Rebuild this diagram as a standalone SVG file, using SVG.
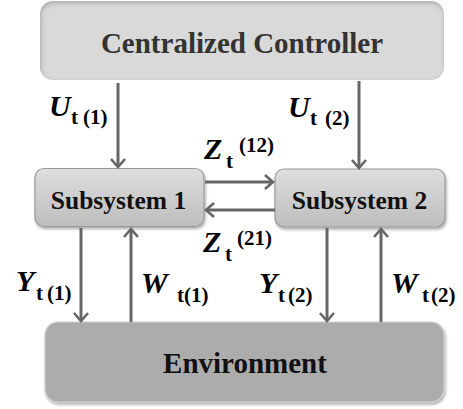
<svg xmlns="http://www.w3.org/2000/svg" width="463" height="409" viewBox="0 0 463 409">
<defs>
<marker id="ah" viewBox="-10 -9 12 18" refX="0" refY="0" markerWidth="12" markerHeight="18" markerUnits="userSpaceOnUse" orient="auto">
<path d="M-8,-7 L0,0 L-8,7" fill="none" stroke="#666" stroke-width="2.6" stroke-linejoin="miter"/>
</marker>
<linearGradient id="gsub" x1="0" y1="0" x2="0" y2="1">
<stop offset="0" stop-color="#dedede"/>
<stop offset="1" stop-color="#bdbdbd"/>
</linearGradient>
<filter id="inset" x="-5%" y="-10%" width="110%" height="120%">
<feFlood flood-color="#000" flood-opacity="0.45"/>
<feComposite in2="SourceAlpha" operator="out"/>
<feGaussianBlur stdDeviation="2.5"/>
<feOffset dx="1" dy="2" result="sh"/>
<feComposite in="sh" in2="SourceAlpha" operator="in" result="inner"/>
<feMerge><feMergeNode in="SourceGraphic"/><feMergeNode in="inner"/></feMerge>
</filter>
<filter id="drop" x="-10%" y="-20%" width="120%" height="140%">
<feGaussianBlur in="SourceAlpha" stdDeviation="1.5"/>
<feOffset dx="1" dy="2" result="o"/>
<feComponentTransfer><feFuncA type="linear" slope="0.35"/></feComponentTransfer>
<feMerge><feMergeNode/><feMergeNode in="SourceGraphic"/></feMerge>
</filter>
</defs>

<g id="controller">
<rect x="40" y="1" width="404" height="79" rx="13" fill="#d9d9d9" filter="url(#inset)"/>
<text x="242" y="53" text-anchor="middle" font-size="29" fill="#333" font-family="Liberation Serif" font-weight="bold">Centralized Controller</text>
</g>

<g id="subsystem1">
<rect x="35" y="168.5" width="169" height="58" rx="9" fill="url(#gsub)" stroke="#999" stroke-width="1.2" filter="url(#drop)"/>
<text x="118.5" y="209" text-anchor="middle" font-size="25.5" fill="#111" font-family="Liberation Serif" font-weight="bold">Subsystem 1</text>
</g>

<g id="subsystem2">
<rect x="275" y="169" width="170" height="58" rx="9" fill="url(#gsub)" stroke="#999" stroke-width="1.2" filter="url(#drop)"/>
<text x="359.5" y="209" text-anchor="middle" font-size="25.5" fill="#111" font-family="Liberation Serif" font-weight="bold">Subsystem 2</text>
</g>

<g id="environment">
<rect x="45" y="322" width="399" height="80" rx="13" fill="#acacac" stroke="#cfcfcf" stroke-width="1.2" filter="url(#drop)"/>
<text x="245" y="373" text-anchor="middle" font-size="29" fill="#111" font-family="Liberation Serif" font-weight="bold">Environment</text>
</g>

<g id="connectors" stroke="#666" stroke-width="3" fill="none">
<line x1="118" y1="83" x2="118" y2="167" marker-end="url(#ah)"/>
<line x1="359" y1="81" x2="359" y2="168" marker-end="url(#ah)"/>
<line x1="205" y1="182" x2="273" y2="182" marker-end="url(#ah)"/>
<line x1="275" y1="210" x2="206" y2="210" marker-end="url(#ah)"/>
<line x1="81" y1="228" x2="81" y2="321" marker-end="url(#ah)"/>
<line x1="131" y1="322" x2="131" y2="229" marker-end="url(#ah)"/>
<line x1="327" y1="228" x2="327" y2="321" marker-end="url(#ah)"/>
<line x1="381" y1="322" x2="381" y2="229" marker-end="url(#ah)"/>
</g>

<g id="labels" fill="#000">
<text x="49" y="116" font-size="30" font-style="italic" font-weight="bold" font-family="Liberation Serif">U</text><text x="71" y="124" font-size="21" font-weight="bold" font-family="Liberation Serif">t</text><text x="83" y="124" font-size="21" font-weight="bold" font-family="Liberation Serif">(1)</text>
<text x="288" y="117" font-size="30" font-style="italic" font-weight="bold" font-family="Liberation Serif">U</text><text x="310" y="125" font-size="21" font-weight="bold" font-family="Liberation Serif">t</text><text x="325" y="125" font-size="21" font-weight="bold" font-family="Liberation Serif">(2)</text>
<text x="204" y="159" font-size="30" font-style="italic" font-weight="bold" font-family="Liberation Serif">Z</text><text x="226" y="168" font-size="21" font-weight="bold" font-family="Liberation Serif">t</text><text x="239" y="152" font-size="21" font-weight="bold" font-family="Liberation Serif">(12)</text>
<text x="203" y="252" font-size="30" font-style="italic" font-weight="bold" font-family="Liberation Serif">Z</text><text x="225" y="261" font-size="21" font-weight="bold" font-family="Liberation Serif">t</text><text x="237" y="245" font-size="21" font-weight="bold" font-family="Liberation Serif">(21)</text>
<text x="16" y="291" font-size="30" font-style="italic" font-weight="bold" font-family="Liberation Serif">Y</text><text x="36" y="300" font-size="21" font-weight="bold" font-family="Liberation Serif">t</text><text x="47" y="300" font-size="21" font-weight="bold" font-family="Liberation Serif">(1)</text>
<text x="141" y="293" font-size="30" font-style="italic" font-weight="bold" font-family="Liberation Serif">W</text><text x="177" y="302" font-size="21" font-weight="bold" font-family="Liberation Serif">t</text><text x="184" y="302" font-size="21" font-weight="bold" font-family="Liberation Serif">(1)</text>
<text x="259" y="293" font-size="30" font-style="italic" font-weight="bold" font-family="Liberation Serif">Y</text><text x="278" y="302" font-size="21" font-weight="bold" font-family="Liberation Serif">t</text><text x="288" y="302" font-size="21" font-weight="bold" font-family="Liberation Serif">(2)</text>
<text x="391" y="293" font-size="30" font-style="italic" font-weight="bold" font-family="Liberation Serif">W</text><text x="422" y="302" font-size="21" font-weight="bold" font-family="Liberation Serif">t</text><text x="431" y="302" font-size="21" font-weight="bold" font-family="Liberation Serif">(2)</text>
</g>
</svg>
